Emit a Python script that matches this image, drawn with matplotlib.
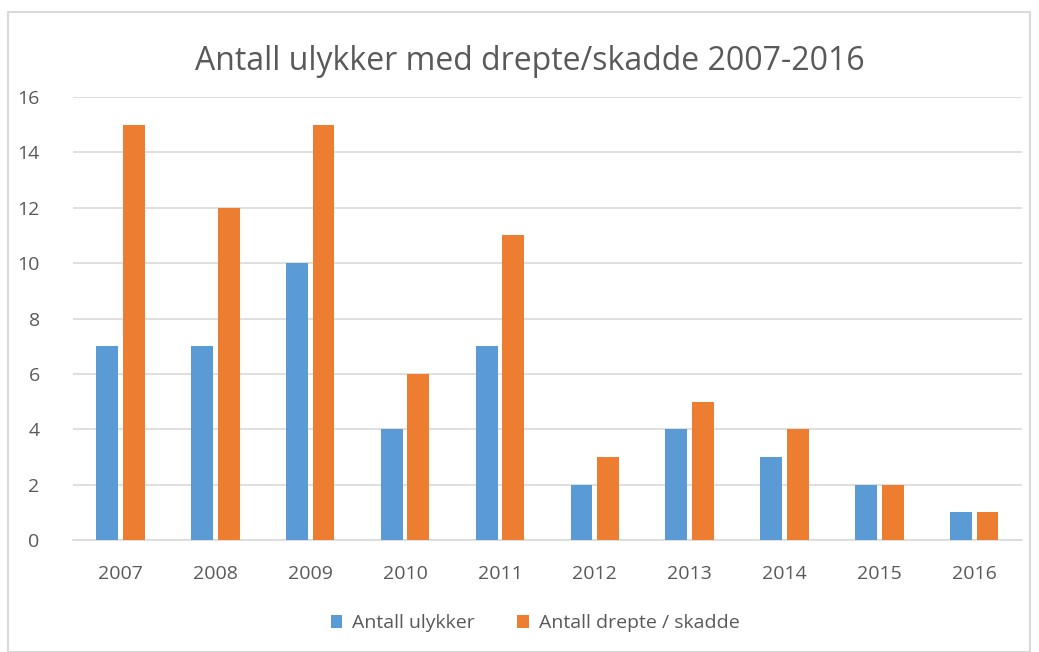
import numpy as np
import matplotlib.pyplot as plt
from matplotlib.patches import Rectangle

years = ["2007", "2008", "2009", "2010", "2011", "2012", "2013", "2014", "2015", "2016"]
ulykker = [7, 7, 10, 4, 7, 2, 4, 3, 2, 1]
drepte_skadde = [15, 12, 15, 6, 11, 3, 5, 4, 2, 1]

blue = "#5B9BD5"
orange = "#ED7D31"
grid_col = "#D9D9D9"
text_col = "#595959"

plt.rcParams["font.family"] = ["Open Sans", "DejaVu Sans"]

fig = plt.figure(figsize=(10.39, 6.52), dpi=100)
ax = fig.add_axes([0.0703, 0.1718, 0.913, 0.6794])

x = np.arange(len(years))
w = 0.23
gap = 0.025
ax.bar(x - w / 2 - gap, ulykker, width=w, color=blue, label="Antall ulykker", zorder=3)
ax.bar(x + w / 2 + gap, drepte_skadde, width=w, color=orange,
       label="Antall drepte / skadde", zorder=3)

ax.set_xlim(-0.5, len(years) - 0.5)
ax.set_ylim(0, 16)
ax.set_yticks(range(0, 17, 2))
ax.set_xticks(x)
ax.set_xticklabels(years)
ax.tick_params(axis="both", length=0, labelsize=14, colors=text_col)
ax.tick_params(axis="x", pad=18)
ax.tick_params(axis="y", pad=24)
ax.grid(axis="y", color=grid_col, linewidth=1.2, zorder=0)
for side in ["top", "right", "left"]:
    ax.spines[side].set_visible(False)
ax.spines["bottom"].set_color(grid_col)
ax.spines["bottom"].set_linewidth(1.2)

fig.text(0.51, 0.905, "Antall ulykker med drepte/skadde 2007-2016",
         ha="center", va="center", fontsize=23, color=text_col)

fig.legend(loc="center", bbox_to_anchor=(0.515, 0.044), ncol=2, frameon=False,
           fontsize=14, labelcolor=text_col, handlelength=0.6, handleheight=0.6,
           handletextpad=0.5, columnspacing=2.2)

fig.patches.append(Rectangle((8 / 1039, 0.0), 1022 / 1039, 1 - 12 / 652,
                             transform=fig.transFigure, fill=False,
                             edgecolor=grid_col, linewidth=1.5))

fig.savefig("out.png", dpi=100)
